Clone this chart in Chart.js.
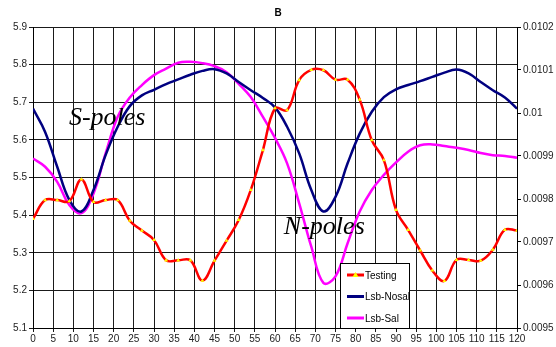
<!DOCTYPE html>
<html>
<head>
<meta charset="utf-8">
<script src="https://cdn.jsdelivr.net/npm/chart.js@4.4.1/dist/chart.umd.min.js"></script>
<style>
    html, body { margin: 0; padding: 0; background: #fff; }
</style>
</head>
<body>
<canvas id="chart" width="556" height="347"></canvas>
<script>
// Sample positions (every 3 units along x)
const sampleX = [0, 3, 6, 9, 12, 15, 18, 21, 24, 27, 30, 33, 36, 39, 42, 45, 48, 51, 54, 57, 60,
                 63, 66, 69, 72, 75, 78, 81, 84, 87, 90, 93, 96, 99, 102, 105, 108, 111, 114, 117, 120];
// Testing - left axis
const testing = [5.39, 5.44, 5.44, 5.437, 5.495, 5.435, 5.44, 5.44, 5.385, 5.359, 5.334,
                 5.28, 5.28, 5.28, 5.226, 5.279, 5.332, 5.387, 5.467, 5.573, 5.684,
                 5.679, 5.759, 5.786, 5.785, 5.76, 5.76, 5.707, 5.599, 5.546, 5.414,
                 5.361, 5.306, 5.253, 5.225, 5.281, 5.281, 5.279, 5.308, 5.361, 5.359];
// Lsb-Nosal - right axis
const lsbNosal = [0.01001, 0.009956, 0.009875, 0.009798, 0.009771, 0.009821, 0.009902, 0.009968, 0.010016, 0.010041, 0.010054,
                  0.010067, 0.010078, 0.010089, 0.010098, 0.010102, 0.010092, 0.010072, 0.010053, 0.010035, 0.010013,
                  0.009968, 0.009906, 0.009821, 0.009771, 0.009805, 0.009883, 0.009952, 0.010003, 0.010037, 0.010055,
                  0.010065, 0.010074, 0.010084, 0.010094, 0.010101, 0.010092, 0.010072, 0.010053, 0.010036, 0.01001];
// Lsb-Sal - right axis
const lsbSal = [0.009894, 0.009875, 0.00984, 0.009786, 0.009767, 0.009813, 0.009906, 0.009991, 0.010036, 0.010065, 0.010088,
                0.010103, 0.010117, 0.010119, 0.010116, 0.010109, 0.010095, 0.010068, 0.010037, 0.009991, 0.009942,
                0.009883, 0.00979, 0.009689, 0.009605, 0.00962, 0.009697, 0.009771, 0.009821, 0.009856, 0.009885,
                0.00991, 0.009925, 0.009927, 0.009923, 0.009919, 0.009914, 0.009907, 0.009902, 0.0099, 0.009896];
// Text labels on the plot: [text, x, y on left axis]
const notes = [['S-poles', 8.9, 5.639], ['N-poles', 62.2, 5.35]];

const FONT = '"Liberation Sans", Arial, sans-serif';
const GRID = '#1a1a1a';

const toPoints = ys => ys.map((y, i) => ({ x: sampleX[i], y: y }));

// Legend box + pole labels drawn inside the plot
const overlay = {
    id: 'overlay',
    afterDatasetsDraw(chart) {
        const ctx = chart.ctx;
        const xs = chart.scales.x, ys = chart.scales.y;
        ctx.save();
        ctx.fillStyle = '#000';
        ctx.font = 'italic 26px "Liberation Serif", "Times New Roman", serif';
        ctx.textBaseline = 'alphabetic';
        notes.forEach(n => ctx.fillText(n[0], xs.getPixelForValue(n[1]), ys.getPixelForValue(n[2])));

        // legend
        const bx = 340, by = 263, bw = 69, bh = 65;
        ctx.fillStyle = '#fff';
        ctx.fillRect(bx, by, bw, bh);
        ctx.strokeStyle = '#000';
        ctx.lineWidth = 1;
        ctx.strokeRect(bx + 0.5, by + 0.5, bw, bh);
        const items = chart.data.datasets;
        ctx.font = '10px ' + FONT;
        ctx.textBaseline = 'middle';
        items.forEach((ds, i) => {
            const ly = by + 12 + i * 21.5;
            ctx.strokeStyle = ds.borderColor;
            ctx.lineWidth = 3;
            ctx.beginPath();
            ctx.moveTo(bx + 7, ly);
            ctx.lineTo(bx + 24, ly);
            ctx.stroke();
            if (ds.pointRadius > 0) {
                ctx.fillStyle = ds.pointBackgroundColor;
                ctx.beginPath();
                ctx.moveTo(bx + 15.5, ly - 3);
                ctx.lineTo(bx + 18.5, ly + 2);
                ctx.lineTo(bx + 12.5, ly + 2);
                ctx.closePath();
                ctx.fill();
            }
            ctx.fillStyle = '#000';
            ctx.fillText(ds.label, bx + 25, ly + 1);
        });
        ctx.restore();
    }
};

new Chart(document.getElementById('chart'), {
    type: 'line',
    data: {
        datasets: [{
            label: 'Testing',
            data: toPoints(testing),
            yAxisID: 'y',
            borderColor: '#FF0000',
            borderWidth: 2.5,
            pointStyle: 'triangle',
            pointRadius: 2.2,
            pointBackgroundColor: '#FFFF00',
            pointBorderColor: '#FFFF00',
            pointBorderWidth: 0,
            tension: 0.4
        }, {
            label: 'Lsb-Nosal',
            data: toPoints(lsbNosal),
            yAxisID: 'y1',
            borderColor: '#000080',
            borderWidth: 2.5,
            pointRadius: 0,
            tension: 0.4
        }, {
            label: 'Lsb-Sal',
            data: toPoints(lsbSal),
            yAxisID: 'y1',
            borderColor: '#FF00FF',
            borderWidth: 2.5,
            pointRadius: 0,
            tension: 0.4
        }]
    },
    options: {
        responsive: false,
        animation: false,
        layout: { padding: 0 },
        plugins: {
            legend: { display: false },
            tooltip: { enabled: false },
            title: {
                display: true,
                text: 'B',
                color: '#000',
                font: { family: FONT, size: 10, weight: 'bold' },
                padding: { top: 7, bottom: 8 }
            }
        },
        scales: {
            x: {
                type: 'linear',
                min: 0,
                max: 120,
                ticks: {
                    stepSize: 5,
                    autoSkip: false,
                    maxRotation: 0,
                    color: '#222',
                    padding: 1,
                    font: { family: FONT, size: 10 }
                },
                grid: { color: GRID, tickLength: 4 },
                border: { color: '#000' },
                afterFit: s => { s.height = 19; }
            },
            y: {
                position: 'left',
                min: 5.1,
                max: 5.9,
                ticks: {
                    stepSize: 0.1,
                    color: '#222',
                    padding: 2,
                    font: { family: FONT, size: 10 },
                    callback: v => v.toFixed(1)
                },
                grid: { color: GRID, tickLength: 4 },
                border: { color: '#000' },
                afterFit: s => { s.width = 33; }
            },
            y1: {
                position: 'right',
                min: 0.0095,
                max: 0.0102,
                ticks: {
                    stepSize: 0.0001,
                    color: '#222',
                    padding: 2,
                    font: { family: FONT, size: 10 },
                    callback: v => parseFloat(v.toFixed(4)).toString()
                },
                grid: { drawOnChartArea: false, color: '#000', tickLength: 4 },
                border: { color: '#000' },
                afterFit: s => { s.width = 39; }
            }
        }
    },
    plugins: [overlay]
});
</script>
</body>
</html>
